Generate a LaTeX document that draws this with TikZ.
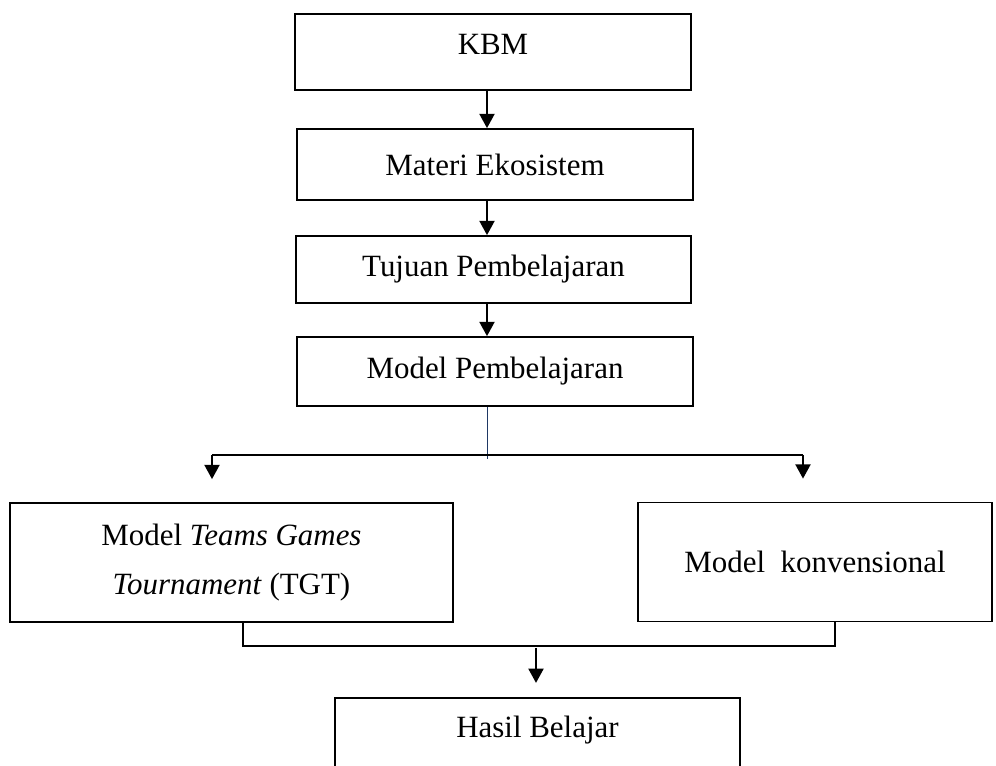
\documentclass[tikz,border=0pt]{standalone}
\usepackage{fontspec}
\setmainfont{Liberation Serif}
\usepackage{xcolor}
\usepackage{tikz}
\usetikzlibrary{arrows.meta, calc}

\definecolor{navyline}{RGB}{31,56,100}

\begin{document}
\begin{tikzpicture}[
  x=0.025cm, y=-0.025cm,
  box/.style={draw, line width=1.1pt, align=center, inner sep=0pt, font=\fontsize{22}{35}\selectfont},
  arr/.style={-{Triangle[length=0.36cm, width=0.37cm]}, line width=2pt},
  link/.style={line width=1.1pt}
]
\useasboundingbox (0,0) rectangle (996,766);

% ── Top chain ──
\node[box, minimum width=9.9cm, minimum height=1.9cm, text depth=0.4cm] (kbm) at (493,52) {KBM};
\node[box, minimum width=9.9cm, minimum height=1.775cm] (materi) at (495,164.5) {Materi Ekosistem};
\node[box, minimum width=9.875cm, minimum height=1.675cm] (tujuan) at (493.5,269.5) {Tujuan Pembelajaran};
\node[box, minimum width=9.9cm, minimum height=1.725cm] (model) at (495,371.5) {Model Pembelajaran};

% ── Two models ──
\node[box, minimum width=11.075cm, minimum height=2.975cm] (tgt) at (231.5,562.5)
  {Model \textit{Teams Games}\\\textit{Tournament} (TGT)};
\node[box, minimum width=8.85cm, minimum height=2.975cm] (konv) at (815,562)
  {Model\ \ konvensional};

% ── Result (runs past the bottom edge) ──
\node[box, minimum width=10.125cm, anchor=north, inner ysep=0.3cm, text height=0.7cm, text depth=2.5cm] (hasil) at (537.5,697) {Hasil Belajar};

% helper points
\coordinate (mid) at (487,0);
\coordinate (split) at (487,459);
\coordinate (lft) at (212,455);
\coordinate (rgt) at (803,455);
\coordinate (joinL) at (243,646);
\coordinate (joinR) at (835,646);
\coordinate (join) at (536,648);

% ═══ ARROWS ═══
\draw[arr] (kbm.south -| mid) -- (materi.north -| mid);
\draw[arr] (materi.south -| mid) -- (tujuan.north -| mid);
\draw[arr] (tujuan.south -| mid) -- (model.north -| mid);

% split to both models
\draw[navyline, line width=0.6pt] (model.south -| mid) -- (split);
\draw[line width=2pt] (lft) -- (rgt);
\draw[arr, shorten >=0.575cm] (lft) -- (lft |- tgt.north);
\draw[arr, shorten >=0.575cm] (rgt) -- (rgt |- konv.north);

% both models into the result
\draw[link] (tgt.south -| joinL) -- (joinL) -- (joinR) -- (konv.south -| joinR);
\draw[arr, shorten >=0.35cm] (join) -- (join |- hasil.north);

\end{tikzpicture}
\end{document}
